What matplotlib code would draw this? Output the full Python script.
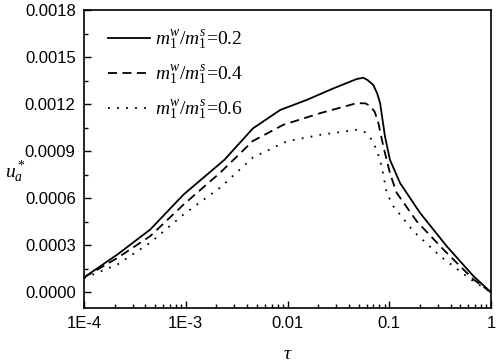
import matplotlib
matplotlib.use("Agg")
import matplotlib.pyplot as plt
from matplotlib.ticker import FixedLocator, MultipleLocator, LogLocator, NullFormatter

tau_02 = [1e-4, 2.14e-4, 4.47e-4, 9.5e-4, 2.4e-3, 4.57e-3, 8.5e-3, 1.55e-2, 2.82e-2,
          4.79e-2, 5.56e-2, 6.17e-2, 6.97e-2, 7.59e-2, 8.13e-2, 9.08e-2, 0.1016, 0.1276,
          0.2004, 0.367, 0.67, 1.0]
u_02 = [0.000095, 0.000242, 0.000400, 0.000623, 0.000845, 0.001045, 0.001163, 0.001227,
        0.001300, 0.001360, 0.001368, 0.001352, 0.001322, 0.001270, 0.001206, 0.000993,
        0.000845, 0.000697, 0.000507, 0.000294, 0.000104, 0.0]

tau_04 = [1e-4, 2.14e-4, 4.47e-4, 9.5e-4, 2.2e-3, 4.57e-3, 9.1e-3, 2.09e-2, 4.79e-2,
          5.8e-2, 6.46e-2, 7.2e-2, 7.82e-2, 8.75e-2, 0.1016, 0.1183, 0.1862, 0.3404, 0.67, 1.0]
u_04 = [0.000095, 0.000220, 0.000358, 0.000559, 0.000765, 0.000965, 0.001068, 0.001142,
        0.001206, 0.001205, 0.001190, 0.001150, 0.001079, 0.000930, 0.000760, 0.000634,
        0.000453, 0.000273, 0.000083, 0.0]

tau_06 = [1e-4, 2.14e-4, 4.47e-4, 9.5e-4, 2.2e-3, 4.57e-3, 9.8e-3, 2.09e-2, 4.79e-2,
          5.8e-2, 6.46e-2, 7.53e-2, 8.43e-2, 9.44e-2, 0.1096, 0.1722, 0.3162, 0.631, 1.0]
u_06 = [0.000090, 0.000178, 0.000316, 0.000496, 0.000670, 0.000860, 0.000962, 0.001004,
        0.001036, 0.001020, 0.000990, 0.000909, 0.000803, 0.000634, 0.000549, 0.000390,
        0.000231, 0.000083, 0.0]

labels = [r"$m_1^w/m_1^s$=0.2", r"$m_1^w/m_1^s$=0.4", r"$m_1^w/m_1^s$=0.6"]
yticks = [0.0, 0.0003, 0.0006, 0.0009, 0.0012, 0.0015, 0.0018]
xticks = [1e-4, 1e-3, 1e-2, 1e-1, 1.0]
xticklabels = ["1E-4", "1E-3", "0.01", "0.1", "1"]

plt.rcParams['mathtext.fontset'] = 'custom'
plt.rcParams['mathtext.it'] = 'Liberation Serif:italic'
plt.rcParams['mathtext.rm'] = 'Liberation Serif'

fig = plt.figure(figsize=(4.98, 3.62), dpi=100)
ax = fig.add_axes([84/498, 1-308/362, (491-84)/498, (308-10)/362])

ax.plot(tau_02, u_02, color='black', lw=1.3, linestyle='-', label=labels[0])
ax.plot(tau_04, u_04, color='black', lw=1.3, linestyle=(0, (5, 3)), label=labels[1])
ax.plot(tau_06, u_06, color='black', lw=1.3, linestyle=(0, (1, 4)), label=labels[2])

ax.set_xscale('log')
ax.set_xlim(1e-4, 1.0)
ax.set_ylim(-0.0001, 0.0018)
ax.xaxis.set_major_locator(FixedLocator(xticks))
ax.set_xticklabels(xticklabels)
ax.xaxis.set_minor_locator(LogLocator(base=10, subs=range(2, 10)))
ax.xaxis.set_minor_formatter(NullFormatter())
ax.set_yticks(yticks)
ax.set_yticklabels(["%.4f" % v for v in yticks])
ax.yaxis.set_minor_locator(MultipleLocator(0.00015))

for lab in ax.get_xticklabels() + ax.get_yticklabels():
    lab.set_fontfamily('Liberation Sans')
    lab.set_fontsize(12)

ax.tick_params(which='both', direction='in', top=False, right=False, width=1)
ax.tick_params(which='major', length=5, pad=6)
ax.tick_params(which='minor', length=3)
for s in ax.spines.values():
    s.set_linewidth(1.2)

ax.set_xlabel(r"$\tau$", fontsize=14, labelpad=9)
ax.set_ylabel(r"$u_a^*$", fontsize=14, rotation=0, va='center', ha='center')
ax.yaxis.set_label_coords(-0.17, 0.455)

leg = ax.legend(loc='upper left', frameon=False, prop={'family': 'Liberation Serif', 'size': 14},
                handlelength=2.2, handletextpad=0.25, labelspacing=0.6,
                bbox_to_anchor=(0.015, 0.995))

fig.savefig("out.png", dpi=100)
